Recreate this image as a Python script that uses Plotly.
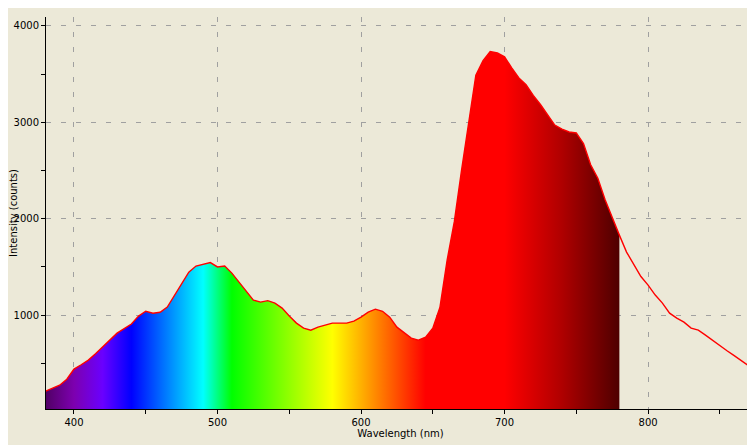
import plotly.graph_objects as go

# spectrum, every 5 nm
wavelength = list(range(380, 880, 5))
intensity = [
    210, 242, 273, 335, 440, 485, 533, 600, 668, 745,
    813, 860, 907, 990, 1040, 1020, 1030, 1083, 1208, 1332,
    1446, 1509, 1530, 1545, 1500, 1509, 1436, 1342, 1260, 1156,
    1135, 1150, 1125, 1073, 990, 917, 865, 844, 875, 896,
    917, 917, 917, 938, 979, 1031, 1062, 1040, 979, 875,
    813, 761, 740, 772, 865, 1083, 1571, 1970, 2500, 3000,
    3490, 3640, 3735, 3720, 3680, 3565, 3460, 3390, 3280, 3185,
    3080, 2972, 2930, 2900, 2890, 2780, 2560, 2420, 2200, 2007,
    1830, 1654, 1530, 1400, 1311, 1208, 1125, 1020, 969, 927,
    865, 844, 792, 735, 685, 630, 580, 525, 475, 400,
]

VISIBLE_MIN, VISIBLE_MAX = 380, 780
x_ticks = [400, 500, 600, 700, 800]
y_ticks = [1000, 2000, 3000, 4000]

BG = "#ECE9D8"
GRID = "#A0A0A0"
FONT = "DejaVu Sans"

# wavelength -> colour anchors (Bruton style)
spectrum_stops = [
    (380, "rgb(80,0,100)"),
    (400, "rgb(125,0,175)"),
    (420, "rgb(106,0,255)"),
    (440, "rgb(0,0,255)"),
    (490, "rgb(0,255,255)"),
    (510, "rgb(0,255,0)"),
    (580, "rgb(255,255,0)"),
    (645, "rgb(255,0,0)"),
    (700, "rgb(255,0,0)"),
    (740, "rgb(175,0,0)"),
    (780, "rgb(78,0,0)"),
]
colorscale = [
    [(w - VISIBLE_MIN) / (VISIBLE_MAX - VISIBLE_MIN), c] for w, c in spectrum_stops
]

vis_x = [w for w in wavelength if w <= VISIBLE_MAX]
vis_y = intensity[: len(vis_x)]

fig = go.Figure()
fig.add_trace(
    go.Scatter(
        x=vis_x,
        y=vis_y,
        mode="lines",
        line=dict(width=0),
        fill="tozeroy",
        fillgradient=dict(
            type="horizontal",
            colorscale=colorscale,
            start=VISIBLE_MIN,
            stop=VISIBLE_MAX,
        ),
        hoverinfo="skip",
    )
)
fig.add_trace(
    go.Scatter(
        x=wavelength,
        y=intensity,
        mode="lines",
        line=dict(color="#FF0000", width=1.4),
        hoverinfo="skip",
    )
)

axis_common = dict(
    showline=True,
    linecolor="black",
    linewidth=1,
    ticks="outside",
    ticklen=4,
    tickcolor="black",
    showgrid=True,
    gridcolor=GRID,
    griddash="5px,10px",
    gridwidth=1,
    zeroline=False,
    automargin=False,
    tickfont=dict(family=FONT, size=10, color="black"),
)

# the page has an 8px body margin, so the figure is 8px smaller than the window
fig.update_layout(
    width=747,
    height=437,
    margin=dict(l=38, r=0, t=9, b=36),
    paper_bgcolor=BG,
    plot_bgcolor=BG,
    showlegend=False,
    font=dict(family=FONT, size=10, color="black"),
    xaxis=dict(
        **axis_common,
        range=[380.5, 874.5],
        tickvals=x_ticks,
        minor=dict(dtick=50, tick0=0, ticks="outside", ticklen=4, tickcolor="black", showgrid=False),
        title=dict(text="Wavelength (nm)", font=dict(family=FONT, size=10), standoff=2),
    ),
    yaxis=dict(
        **axis_common,
        range=[26, 4093],
        tickvals=y_ticks,
        minor=dict(dtick=500, tick0=0, ticks="outside", ticklen=4, tickcolor="black", showgrid=False),
        title=dict(text="Intensity (counts)", font=dict(family=FONT, size=10), standoff=2),
    ),
)

fig.write_html("out.html")
